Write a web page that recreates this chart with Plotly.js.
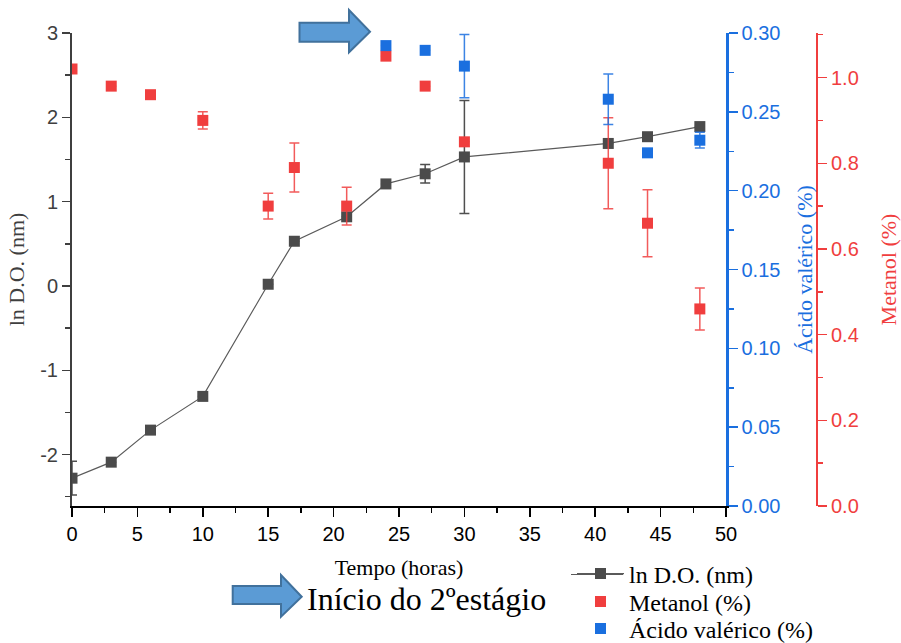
<!DOCTYPE html>
<html>
<head>
<meta charset="utf-8">
<script src="https://cdn.plot.ly/plotly-3.0.1.min.js"></script>
<style>html,body{margin:0;padding:0;background:#fff;}#chart{width:901px;height:643px;}</style>
</head>
<body>
<div id="chart"></div>
<script>
// ---- data ----
const timeDO = [0, 3, 6, 10, 15, 17, 21, 24, 27, 30, 41, 44, 48];
const lnDO = [-2.28, -2.09, -1.71, -1.31, 0.02, 0.53, 0.82, 1.21, 1.33, 1.53, 1.69, 1.77, 1.89];
const lnDOErr = [0.2, 0, 0, 0, 0, 0, 0, 0, 0.11, 0.67, 0, 0, 0];

const timeMet = [0, 3, 6, 10, 15, 17, 21, 24, 27, 30, 41, 44, 48];
const metanol = [1.02, 0.98, 0.96, 0.90, 0.70, 0.79, 0.70, 1.05, 0.98, 0.85, 0.80, 0.66, 0.46];
const metanolErr = [0, 0, 0, 0.02, 0.03, 0.057, 0.044, 0, 0, 0, 0.106, 0.078, 0.049];

const timeVal = [24, 27, 30, 41, 44, 48];
const valerico = [0.292, 0.289, 0.279, 0.258, 0.224, 0.232];
const valericoErr = [0, 0, 0.02, 0.016, 0.002, 0.005];

const xTicks = [0, 5, 10, 15, 20, 25, 30, 35, 40, 45, 50];
const yTicks = [-2, -1, 0, 1, 2, 3];
const valTicks = [0, 0.05, 0.10, 0.15, 0.20, 0.25, 0.30];
const metTicks = [0, 0.2, 0.4, 0.6, 0.8, 1.0];

const names = ['ln D.O. (nm)', 'Metanol (%)', 'Ácido valérico (%)'];
const annText = 'Início do 2ºestágio';

// ---- layout geometry ----
const W = 901, H = 643;
const L = 72, R = 84, T = 33, B = 137;
const PW = W - L - R, PH = H - T - B;
function px(x) { return (x - L) / PW; }
function py(y) { return (H - B - y) / PH; }

const GRAY = '#4b4b4b', RED = '#f03e3e', BLUE = '#1a6fdf';
const SERIF = 'Liberation Serif, Times New Roman, serif';
const SANS = 'Liberation Sans, Arial, sans-serif';

const traces = [
  {
    x: timeDO, y: lnDO, name: names[0], type: 'scatter', mode: 'lines+markers',
    xaxis: 'x', yaxis: 'y', legend: 'legend',
    line: {color: '#5a5a5a', width: 1.2},
    marker: {symbol: 'square', size: 11, color: GRAY},
    error_y: {type: 'data', array: lnDOErr, visible: true, color: 'rgba(60,60,60,0.9)', thickness: 1.5, width: 5}
  },
  {
    x: timeMet, y: metanol, name: names[1], type: 'scatter', mode: 'markers',
    xaxis: 'x', yaxis: 'y2', legend: 'legend2',
    marker: {symbol: 'square', size: 11, color: RED},
    error_y: {type: 'data', array: metanolErr, visible: true, color: 'rgba(240,62,62,0.85)', thickness: 1.5, width: 5}
  },
  {
    x: timeVal, y: valerico, name: names[2], type: 'scatter', mode: 'markers',
    xaxis: 'x', yaxis: 'y3', legend: 'legend3',
    marker: {symbol: 'square', size: 11, color: BLUE},
    error_y: {type: 'data', array: valericoErr, visible: true, color: 'rgba(26,111,223,0.85)', thickness: 1.5, width: 5}
  }
];

function arrow(x0, x1, x2, yb0, yb1, yh0, yh1, ytip) {
  return 'M' + px(x0) + ',' + py(yb0) + ' L' + px(x1) + ',' + py(yb0) + ' L' + px(x1) + ',' + py(yh0) +
    ' L' + px(x2) + ',' + py(ytip) + ' L' + px(x1) + ',' + py(yh1) + ' L' + px(x1) + ',' + py(yb1) +
    ' L' + px(x0) + ',' + py(yb1) + ' Z';
}

function legendAt(yc) {
  return {
    x: px(572), y: py(yc), xanchor: 'left', yanchor: 'middle',
    bgcolor: 'rgba(0,0,0,0)', borderwidth: 0,
    font: {family: SERIF, size: 24, color: '#000'},
    itemwidth: 47
  };
}

const layout = {
  width: W, height: H,
  margin: {l: L, r: R, t: T, b: B, pad: 0, autoexpand: false},
  paper_bgcolor: '#fff', plot_bgcolor: 'rgba(0,0,0,0)',
  showlegend: true,
  xaxis: {
    domain: [0, (726 - L) / PW], range: [0, 50],
    tickvals: xTicks, ticks: 'outside', ticklen: 9, tickwidth: 1.5, tickcolor: '#000',
    minor: {dtick: 2.5, ticks: 'outside', ticklen: 5, tickwidth: 1.5, tickcolor: '#000'},
    showline: true, linecolor: '#000', linewidth: 2, showgrid: false, zeroline: false,
    tickfont: {family: SANS, size: 20, color: '#000'},
    title: {text: 'Tempo (horas)', font: {family: SERIF, size: 22, color: '#000'}, standoff: 16},
    automargin: false
  },
  yaxis: {
    range: [-2.61, 3], tickvals: yTicks, ticktext: ['-2', '-1', '0', '1', '2', '3'],
    ticks: 'outside', ticklen: 8, tickwidth: 1.5, tickcolor: '#3f3f3f',
    minor: {dtick: 0.5, ticks: 'outside', ticklen: 5, tickwidth: 1.5, tickcolor: '#3f3f3f'},
    showline: true, linecolor: '#3f3f3f', linewidth: 2, showgrid: false, zeroline: false,
    tickfont: {family: SANS, size: 20, color: '#3f3f3f'},
    title: {text: names[0], font: {family: SERIF, size: 22, color: '#3f3f3f'}, standoff: 10},
    automargin: false
  },
  yaxis2: {
    overlaying: 'y', side: 'right', anchor: 'free', position: 1,
    range: [0, 1.104], tickvals: metTicks, ticktext: ['0.0', '0.2', '0.4', '0.6', '0.8', '1.0'],
    ticks: 'outside', ticklen: 9, tickwidth: 1.5, tickcolor: RED,
    minor: {dtick: 0.1, ticks: 'outside', ticklen: 5, tickwidth: 1.5, tickcolor: RED},
    showline: true, linecolor: RED, linewidth: 2, showgrid: false, zeroline: false,
    tickfont: {family: SANS, size: 20, color: RED},
    title: {text: names[1], font: {family: SERIF, size: 22, color: RED}, standoff: 28},
    automargin: false
  },
  yaxis3: {
    overlaying: 'y', side: 'right', anchor: 'x',
    range: [0, 0.30], tickvals: valTicks, ticktext: ['0.00', '0.05', '0.10', '0.15', '0.20', '0.25', '0.30'],
    ticks: 'outside', ticklen: 9, tickwidth: 1.5, tickcolor: BLUE,
    minor: {dtick: 0.025, ticks: 'outside', ticklen: 5, tickwidth: 1.5, tickcolor: BLUE},
    showline: true, linecolor: BLUE, linewidth: 2.5, showgrid: false, zeroline: false,
    tickfont: {family: SANS, size: 20, color: BLUE},
    title: {text: names[2], font: {family: SERIF, size: 22, color: BLUE}, standoff: 17},
    automargin: false
  },
  legend: legendAt(574),
  legend2: legendAt(602),
  legend3: legendAt(629),
  shapes: [
    {type: 'path', xref: 'paper', yref: 'paper', path: arrow(299.5, 349, 370, 22.7, 41.7, 10, 52.3, 31.7),
      fillcolor: '#5b9bd5', line: {color: '#41719c', width: 2}},
    {type: 'path', xref: 'paper', yref: 'paper', path: arrow(232.7, 281, 301.7, 586, 604, 575, 616.7, 596.7),
      fillcolor: '#5b9bd5', line: {color: '#41719c', width: 2}},
    {type: 'line', xref: 'paper', yref: 'paper', layer: 'below', x0: px(571), x1: px(623), y0: py(574.5), y1: py(574.5),
      line: {color: '#5a5a5a', width: 1.2}}
  ],
  annotations: [
    {text: annText, xref: 'paper', yref: 'paper', x: px(305), y: py(599), xanchor: 'left', yanchor: 'middle',
      showarrow: false, font: {family: SERIF, size: 32, color: '#000'}}
  ]
};

Plotly.newPlot('chart', traces, layout, {displayModeBar: false, staticPlot: true});
</script>
</body>
</html>
